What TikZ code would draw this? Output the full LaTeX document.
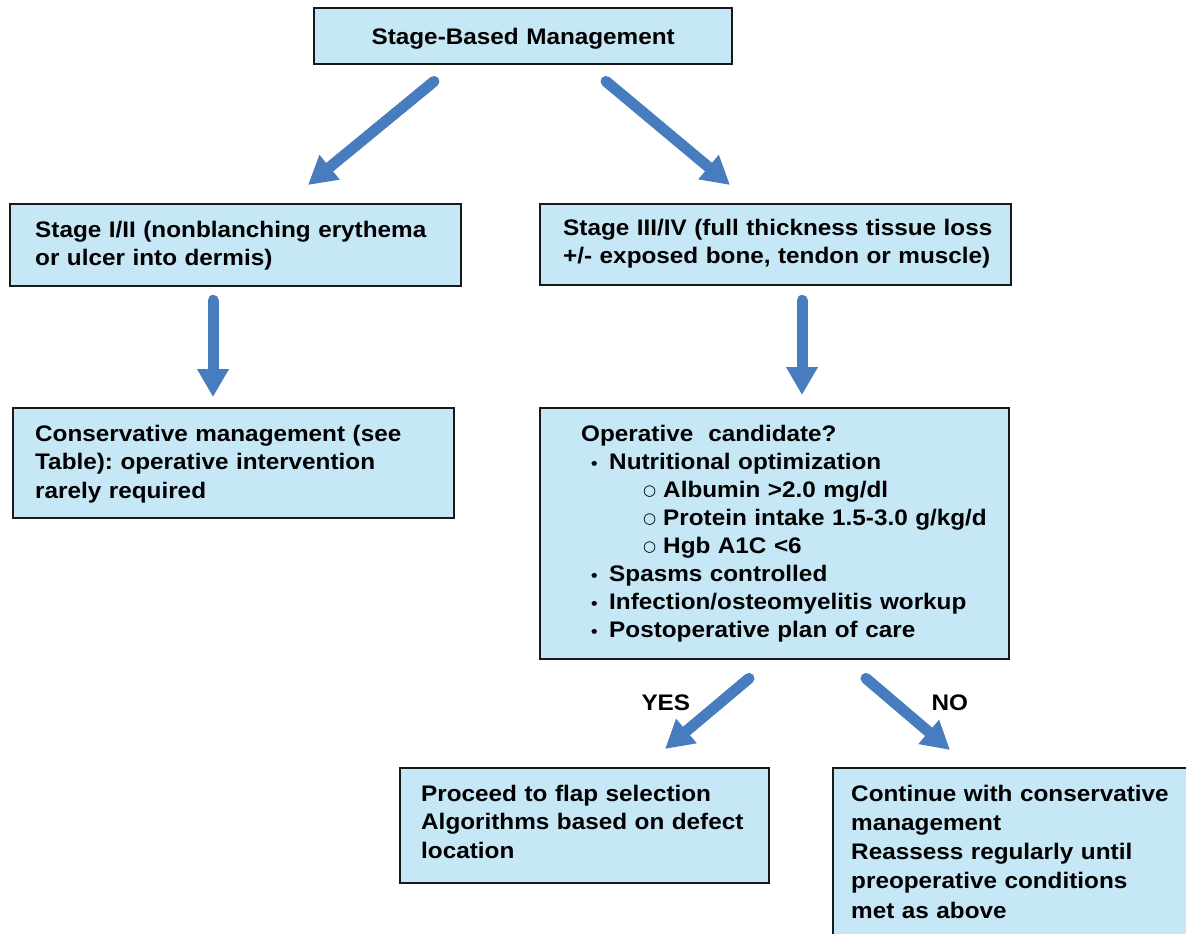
\documentclass[tikz,border=0pt]{standalone}
\usepackage{fontspec}
\setmainfont{Liberation Sans}[FakeStretch=1.08]
\newfontfamily\circfont{DejaVu Sans}
\usetikzlibrary{arrows.meta, calc}
\frenchspacing
\definecolor{boxblue}{RGB}{198,231,245}
\definecolor{arrowblue}{RGB}{71,125,190}
\newcommand{\itm}[1]{\mbox{\hspace*{10pt}\makebox[18pt][l]{{\fontsize{17}{17}\selectfont •}}#1}}
\newcommand{\subitm}[1]{\mbox{\hspace*{62pt}\makebox[20pt][l]{\raisebox{2pt}{\circfont\fontsize{15}{15}\selectfont ○}}#1}}

\begin{document}
\begin{tikzpicture}[x=1pt, y=-1pt, >=latex,
    box/.style={draw=black!90, line width=2.4pt, fill=boxblue, anchor=north west,
        inner ysep=0pt, align=left, font=\bfseries\fontsize{22.5}{28.5}\selectfont},
    lbl/.style={anchor=base west, font=\bfseries\fontsize{22.5}{28.5}\selectfont},
    flow/.style={draw=arrowblue, line width=11pt, line cap=round,
        -{Triangle[length=28pt, width=30pt]}}]
    \path[use as bounding box, clip] (0,0) rectangle (1186,934);

    % boxes
    \node[box, text width=398pt, inner xsep=10pt, align=center, text height=36pt, text depth=20pt] (mgmt) at (313,7) {Stage-Based Management};
    \node[box, text width=401pt, inner xsep=25pt, text height=33pt, text depth=49pt] (st12) at (9,203) {Stage I/II (nonblanching erythema\\ or ulcer into dermis)};
    \node[box, text width=425pt, inner xsep=23pt, text height=31pt, text depth=50pt] (st34) at (539,203) {\mbox{Stage III/IV (full thickness tissue loss}\\ \mbox{+/- exposed bone, tendon or muscle)}};
    \node[box, text width=397pt, inner xsep=22pt, text height=33pt, text depth=77pt] (cons) at (12,407) {Conservative management (see\\ Table): operative intervention\\ rarely required};
    \node[box, text width=387pt, inner xsep=41pt, text height=33pt, text depth=218pt,
        font=\bfseries\fontsize{22.5}{28.1}\selectfont] (oper) at (539,407) {Operative~ candidate?\\
        \itm{Nutritional optimization}\\
        \subitm{Albumin >2.0 mg/dl}\\
        \subitm{Protein intake 1.5-3.0 g/kg/d}\\
        \subitm{Hgb A1C <6}\\
        \itm{Spasms controlled}\\
        \itm{Infection/osteomyelitis workup}\\
        \itm{Postoperative plan of care}};
    \node[box, text width=327pt, inner xsep=21pt, text height=33pt, text depth=82pt] (flap) at (399,767) {Proceed to flap selection\\ Algorithms based on defect\\ location};
    \node[box, text width=344pt, inner xsep=18pt, text height=33pt, text depth=185pt,
        font=\bfseries\fontsize{22.5}{29.2}\selectfont] (cont) at (832,767) {Continue with conservative\\ management\\ Reassess regularly until\\ preoperative conditions\\ met as above};

    % answers
    \node[lbl] (yes) at (638,710) {YES};
    \node[lbl] (no) at (928,710) {NO};

    % arrows
    \draw[flow] ($(mgmt.south west)+(121,16)$) -- ($(st12.north west)+(299,-18)$);
    \draw[flow] ($(mgmt.south west)+(293,16)$) -- ($(st34.north west)+(191,-18)$);
    \draw[flow] ($(st12.south west)+(204,13)$) -- ($(cons.north west)+(201,-10)$);
    \draw[flow] ($(st34.south west)+(263,14)$) -- ($(oper.north west)+(263,-12)$);
    \draw[flow] ($(oper.south west)+(210,18)$) -- ($(flap.north west)+(266,-18)$);
    \draw[flow] ($(oper.south west)+(327,18)$) -- ($(cont.north west)+(118,-17)$);
\end{tikzpicture}
\end{document}
